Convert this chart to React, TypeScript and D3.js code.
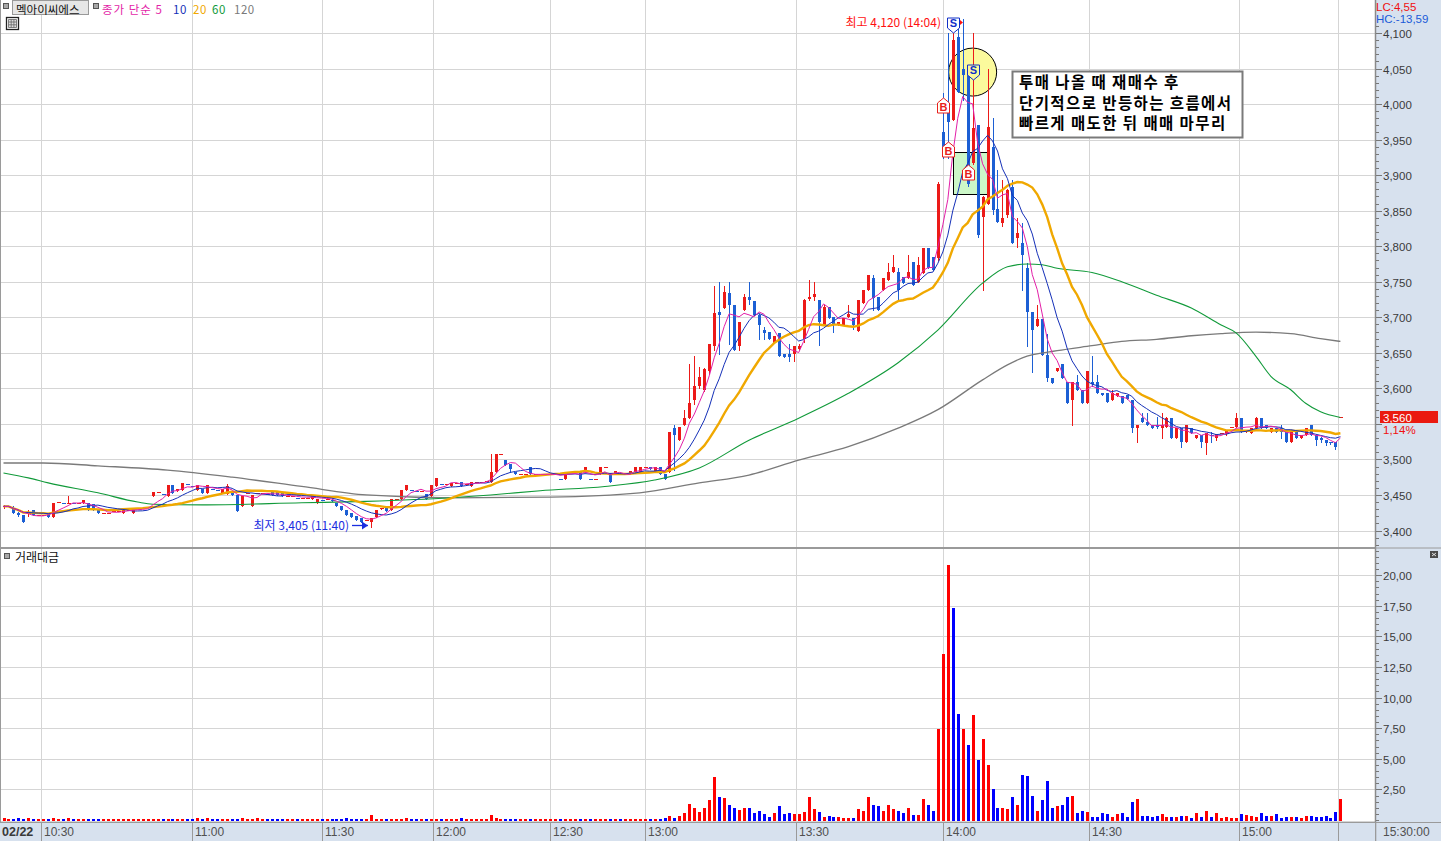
import React from 'react';
import * as d3 from 'd3';

const W = 1441;
const H = 841;

// ---------- DATA ----------
// [open, high, low, close] per 1-minute bar
const candles: [number, number, number, number][] = [
  [3434,3436,3432,3434],[3434,3434,3434,3434],[3432,3434,3424,3425],[3425,3426,3421,3422],[3422,3422,3412,3412],[3423,3429,3420,3425],[3429,3429,3422,3422],[3422,3422,3422,3422],[3422,3422,3422,3422],[3424,3424,3419,3419],
  [3419,3439,3419,3439],[3440,3440,3440,3440],[3438,3438,3438,3438],[3439,3448,3439,3439],[3438,3438,3438,3438],[3438,3438,3438,3438],[3438,3443,3438,3443],[3438,3438,3429,3429],[3437,3437,3429,3429],[3429,3429,3424,3424],
  [3424,3424,3424,3424],[3424,3424,3424,3424],[3428,3428,3428,3428],[3428,3428,3428,3428],[3424,3429,3424,3429],[3429,3429,3429,3429],[3424,3429,3424,3429],[3431,3431,3431,3431],[3431,3431,3431,3431],[3433,3433,3433,3433],
  [3448,3454,3448,3454],[3454,3454,3454,3454],[3452,3452,3452,3452],[3448,3464,3448,3464],[3464,3464,3453,3453],[3455,3458,3455,3458],[3457,3467,3457,3467],[3465,3465,3465,3465],[3462,3462,3462,3462],[3457,3464,3457,3464],
  [3458,3458,3453,3453],[3453,3464,3453,3464],[3458,3458,3458,3458],[3457,3457,3457,3457],[3453,3458,3453,3458],[3452,3465,3452,3462],[3455,3455,3450,3450],[3450,3450,3428,3428],[3434,3448,3434,3448],[3453,3453,3453,3453],
  [3434,3450,3434,3450],[3453,3453,3453,3453],[3453,3453,3453,3453],[3452,3452,3452,3452],[3454,3454,3450,3450],[3454,3454,3450,3450],[3454,3454,3448,3448],[3448,3448,3448,3448],[3448,3448,3448,3448],[3446,3446,3446,3446],
  [3446,3446,3446,3446],[3446,3446,3446,3446],[3444,3448,3444,3448],[3438,3445,3438,3445],[3443,3443,3443,3443],[3444,3444,3444,3444],[3443,3443,3441,3441],[3439,3439,3434,3434],[3434,3434,3429,3429],[3429,3429,3422,3422],
  [3424,3424,3419,3419],[3420,3420,3415,3415],[3417,3417,3412,3412],[3415,3415,3415,3415],[3412,3418,3405,3418],[3419,3429,3419,3429],[3430,3432,3430,3431],[3434,3434,3428,3428],[3429,3444,3429,3444],[3444,3444,3444,3444],
  [3445,3457,3445,3457],[3457,3464,3457,3464],[3457,3457,3457,3457],[3456,3456,3456,3456],[3456,3456,3456,3456],[3451,3451,3444,3444],[3449,3464,3449,3464],[3463,3474,3463,3474],[3465,3465,3465,3465],[3465,3465,3465,3465],
  [3462,3467,3462,3467],
  [3467,3467,3467,3467],[3468,3468,3463,3463],[3466,3466,3466,3466],[3463,3468,3463,3468],[3468,3468,3468,3468],[3468,3468,3468,3468],[3470,3470,3470,3470],[3468,3508,3468,3483],[3483,3508,3483,3508],[3508,3508,3508,3508],
  [3499,3499,3492,3492],[3494,3494,3483,3487],[3483,3483,3479,3479],[3479,3479,3479,3479],[3479,3479,3479,3479],[3489,3489,3479,3479],[3479,3479,3479,3479],[3479,3479,3479,3479],[3479,3479,3479,3479],[3479,3479,3479,3479],
  [3479,3479,3479,3479],[3473,3473,3473,3473],[3473,3483,3473,3483],[3483,3483,3483,3483],[3483,3483,3483,3483],[3483,3483,3473,3473],[3483,3489,3483,3489],[3473,3473,3473,3473],[3473,3473,3473,3473],[3479,3489,3479,3489],
  [3489,3489,3489,3489],[3479,3479,3468,3468],[3479,3484,3479,3484],[3479,3479,3479,3479],[3479,3479,3479,3479],[3479,3484,3479,3484],[3483,3489,3483,3489],[3483,3489,3483,3489],[3489,3489,3489,3489],[3489,3489,3486,3486],
  [3483,3489,3483,3489],[3489,3489,3479,3479],[3479,3479,3473,3473],[3483,3539,3483,3539],[3544,3548,3485,3534],[3528,3545,3528,3545],[3548,3570,3548,3558],[3558,3634,3558,3579],[3583,3645,3578,3603],[3603,3630,3600,3616],
  [3598,3628,3596,3627],[3625,3663,3620,3663],[3659,3744,3654,3706],[3708,3749,3649,3703],[3713,3744,3713,3735],[3734,3749,3663,3717],[3717,3717,3654,3654],[3659,3694,3654,3694],[3710,3733,3710,3728],[3728,3749,3718,3724],
  [3723,3723,3703,3703],[3703,3705,3670,3689],[3682,3687,3670,3678],[3680,3680,3670,3670],[3664,3674,3664,3674],[3678,3678,3645,3645],[3649,3649,3644,3644],[3649,3663,3638,3644],[3649,3659,3638,3659],[3655,3662,3655,3660],
  [3670,3726,3665,3724],[3726,3753,3724,3728],[3728,3749,3724,3733],[3724,3724,3661,3694],[3689,3717,3689,3715],[3715,3715,3699,3699],[3701,3701,3680,3689],[3689,3694,3689,3694],[3689,3699,3689,3699],[3701,3717,3701,3705],
  [3699,3699,3683,3689],[3681,3724,3681,3724],[3720,3738,3720,3738],[3738,3760,3738,3760],[3755,3760,3710,3727],[3729,3729,3710,3710],[3738,3755,3738,3755],[3752,3776,3752,3764],[3764,3788,3764,3771],[3764,3769,3724,3738],
  [3757,3757,3748,3748],[3755,3788,3755,3764],[3778,3778,3745,3745],[3750,3785,3750,3773],[3762,3798,3762,3798],[3798,3798,3769,3769],[3785,3785,3766,3766],[3783,3890,3780,3888],[3960,4015,3924,3930],[3998,4100,3924,3975],
  [3977,4100,3977,4090],[4095,4114,4017,4017],[4050,4120,4006,4041],[4041,4041,3885,3888],[3917,4100,3916,3966],[3970,3970,3813,3816],[3841,3870,3738,3869],[3860,4050,3860,3968],[3940,3980,3845,3851],[3853,3907,3834,3834],
  [3832,3893,3828,3839],[3844,3880,3841,3879],[3884,3893,3804,3804],[3812,3839,3799,3818],[3805,3832,3738,3788],[3769,3776,3659,3708],[3708,3708,3623,3682],[3688,3717,3688,3698],[3698,3698,3647,3647],[3647,3677,3610,3614],
  [3614,3614,3608,3608],[3625,3628,3625,3628],[3634,3634,3614,3614],[3609,3609,3579,3579],[3584,3609,3548,3609],[3609,3619,3598,3598],[3598,3598,3579,3579],[3579,3625,3579,3625],[3609,3645,3604,3606],[3609,3619,3593,3593],
  [3593,3593,3590,3591],[3593,3593,3581,3581],[3584,3597,3584,3593],[3589,3593,3589,3593],[3589,3589,3579,3579],[3590,3590,3585,3585],[3584,3584,3539,3544],[3544,3548,3525,3548],[3558,3565,3553,3553],[3553,3565,3548,3548],
  [3548,3548,3544,3544],[3548,3560,3544,3546],[3544,3565,3530,3548],[3546,3560,3546,3558],[3558,3558,3530,3530],[3530,3544,3530,3544],[3544,3544,3518,3525],[3525,3548,3525,3548],[3544,3544,3537,3537],[3530,3534,3530,3534],
  [3534,3534,3518,3525],[3523,3537,3508,3537],[3534,3539,3525,3533],[3530,3536,3527,3536],[3537,3537,3537,3537],[3536,3542,3535,3542],[3546,3546,3546,3546],[3546,3565,3546,3558],[3558,3558,3539,3539],[3539,3542,3539,3542],
  [3537,3544,3537,3544],[3544,3560,3544,3558],[3558,3558,3544,3544],[3548,3548,3544,3544],[3539,3544,3539,3544],[3544,3544,3539,3539],[3544,3548,3530,3539],[3539,3539,3525,3525],[3525,3539,3525,3539],[3539,3539,3530,3530],
  [3530,3534,3530,3534],[3534,3544,3534,3544],[3548,3548,3534,3534],[3534,3534,3521,3527],[3530,3532,3525,3527],[3527,3527,3520,3523],[3525,3525,3522,3523],[3525,3525,3515,3518],[3560,3560,3560,3560],
];

// trading value (억원) per bar
const volumes: number[] = [
  0.14,0.07,0.07,0.14,0.07,0.14,0.07,0.07,0.07,0.07,
  0.14,0.07,0.07,0.14,0.07,0.07,0.07,0.07,0.07,0.07,
  0.07,0.07,0.07,0.07,0.07,0.07,0.07,0.07,0.07,0.07,
  0.07,0.07,0.07,0.07,0.07,0.07,0.07,0.07,0.07,0.14,
  0.07,0.14,0.07,0.07,0.07,0.07,0.07,0.07,0.14,0.07,
  0.07,0.14,0.07,0.07,0.07,0.07,0.07,0.07,0.07,0.07,
  0.07,0.07,0.07,0.07,0.07,0.07,0.07,0.07,0.07,0.14,
  0.07,0.07,0.07,0.07,0.4,0.07,0.07,0.07,0.07,0.07,
  0.07,0.14,0.07,0.07,0.07,0.07,0.07,0.07,0.07,0.07,
  0.07,0.07,0.14,0.07,0.07,0.07,0.07,0.07,0.4,0.14,
  0.07,0.07,0.07,0.07,0.07,0.07,0.07,0.07,0.07,0.07,
  0.07,0.07,0.07,0.07,0.07,0.07,0.07,0.07,0.07,0.07,
  0.07,0.07,0.07,0.07,0.07,0.07,0.07,0.07,0.07,0.07,
  0.07,0.07,0.1,0.15,0.33,0.2,0.33,0.55,1.3,0.96,
  0.68,0.96,1.6,3.5,1.9,1.8,1.2,1.0,0.8,0.96,
  1.0,0.55,0.76,0.47,0.28,0.55,1.15,0.47,0.6,0.47,
  0.5,0.68,1.9,0.87,0.63,0.28,0.33,0.28,0.22,0.19,
  0.14,0.19,0.87,0.73,1.9,1.23,1.15,0.73,1.23,0.87,
  0.73,0.55,0.96,0.41,0.41,1.7,1.23,0.73,7.4,13.6,
  20.8,17.3,8.7,7.4,6.1,8.6,4.9,6.6,4.5,2.5,
  0.96,0.96,0.87,1.9,1.23,3.7,3.6,2.0,0.74,1.64,
  3.2,1.0,1.15,1.23,1.9,2.0,0.6,0.73,0.68,0.28,
  0.28,0.55,0.5,0.22,0.5,0.55,0.22,1.5,1.69,0.33,
  0.36,0.28,0.33,0.47,0.22,0.28,0.28,0.36,0.36,0.19,
  0.55,0.22,0.76,0.28,0.6,0.19,0.22,0.14,0.19,0.47,
  0.41,0.33,0.22,0.55,0.33,0.33,0.47,0.19,0.22,0.22,
  0.22,0.19,0.33,0.33,0.28,0.28,0.33,0.2,0.68,1.75,
];
// bars whose volume colour differs from the candle colour in the reference
const volDirIdx = [189, 190, 191, 193];
const volDirUp = [true, true, false, true];

// 60 / 120 moving averages (they reach back before this session) read at sample bars
const ma60Idx = [0,5,9,19,27,30,40,60,73,90,98,108,121,131,140,150,160,170,180,188,197,202,206,209,212,219,225,232,239,245,248,252,255,259,262,265,269];
const ma60Val = [3481,3474,3467,3453,3440,3437,3436,3439,3441,3446,3450,3456,3462,3471,3488,3527,3558,3593,3636,3682,3748,3771,3775,3774,3769,3763,3750,3731,3713,3689,3678,3645,3617,3598,3579,3567,3559];
const ma120Idx = [0,8,19,33,46,60,73,90,110,128,140,150,160,170,180,188,197,202,205,212,219,225,232,239,245,252,259,265,269];
const ma120Val = [3495,3495,3491,3485,3475,3462,3450,3446,3447,3453,3467,3478,3499,3518,3544,3570,3612,3633,3643,3653,3660,3666,3669,3674,3677,3679,3677,3670,3666];

const timeTickIdx = [7.5, 38, 64, 86.5, 110, 129, 159.5, 189, 218.5, 248.5, 268.5];
const timeTickLabels = ['10:30', '11:00', '11:30', '12:00', '12:30', '13:00', '13:30', '14:00', '14:30', '15:00', ''];

const priceTicks = [3400, 3450, 3500, 3550, 3600, 3650, 3700, 3750, 3800, 3850, 3900, 3950, 4000, 4050, 4100];
const priceLabelTicks = [3400, 3450, 3500, 3600, 3650, 3700, 3750, 3800, 3850, 3900, 3950, 4000, 4050, 4100];
const volTicks = [2.5, 5, 7.5, 10, 12.5, 15, 17.5, 20];

const tradeIdx = [189, 190, 191, 194, 195];
const tradeType = ['B', 'B', 'S', 'B', 'S'];
const tradePrice = [3997, 3935, 4111, 3903, 4045];

const highPrice = 4120, highLabel = '최고 4,120 (14:04)';
const lowIdx = 74, lowPrice = 3405, lowLabel = '최저 3,405 (11:40)';
const lastPrice = 3560, lastLabel = '3,560', lastPct = '1,14%';

const noteLines = ['투매 나올 때 재매수 후', '단기적으로 반등하는 흐름에서', '빠르게 매도한 뒤 매매 마무리'];
const noteAnchor = { idx: 202.9, price: 4047 };
const circleAnchor = { idx: 195, price: 4045 };
const boxAnchor = { idx0: 191.1, idx1: 198, p0: 3933, p1: 3874 };

const legendItems = [
  { t: '종가 단순 5', c: '#e31fa8' },
  { t: '10', c: '#1530b8' },
  { t: '20', c: '#f0a800' },
  { t: '60', c: '#119a3a' },
  { t: '120', c: '#7a7a7a' },
];
const legendX = [102, 173, 193, 212, 234];

// ---------- STYLE ----------
const KR = '"Noto Sans CJK KR", "Noto Sans", sans-serif';
const NUM = '"Liberation Sans", Arial, sans-serif';
const PANEL_BG = '#d7e1ee';
const GRID = '#d5d5d5';
const RED = '#ec1a18';
const BLUE = '#1c5fd4';
const VRED = '#ff0000';
const VBLUE = '#0000ff';

const PLOT_R = 1375;
const PRICE_BOTTOM = 548;
const VOL_TOP = 549;
const AXIS_TOP = 822;

export default function App() {
  const x = d3.scaleLinear().domain([0, 269]).range([3.5, 3.5 + 269 * 4.97]);
  const y = d3.scaleLinear().domain([3400, 4100]).range([530.5, 33]);
  const yv = d3.scaleLinear().domain([0, 20]).range([820, 575.2]);

  const closes = candles.map((d) => d[3]);
  const sma = (k: number) => closes.map((_, i) => d3.mean(closes.slice(Math.max(0, i - k + 1), i + 1)) as number);
  const ma5 = sma(5), ma10 = sma(10), ma20 = sma(20);

  const up = candles.map((d, i) => {
    if (d[3] > d[0]) return true;
    if (d[3] < d[0]) return false;
    return i === 0 ? true : d[3] >= candles[i - 1][3];
  });
  const volUp = up.map((u, i) => {
    const k = volDirIdx.indexOf(i);
    return k >= 0 ? volDirUp[k] : u;
  });

  const lineIdx = d3.line<number>().x((_, i) => x(i)).y((d) => y(d));
  const lineSample = (idx: number[]) =>
    d3.line<number>().x((_, i) => x(idx[i])).y((d) => y(d)).curve(d3.curveMonotoneX);

  const priceMinor = d3.range(3380, 4150, 10);
  const volMinor = d3.range(0, 22.5, 0.5);

  const cxr = (i: number) => Math.round(x(i));

  const noteX = Math.round(x(noteAnchor.idx));
  const noteY = Math.round(y(noteAnchor.price));

  return (
    <svg width={W} height={H} style={{ position: 'absolute', left: 0, top: 0, background: '#fff' }}
      xmlns="http://www.w3.org/2000/svg">
      <defs>
        <clipPath id="pclip"><rect x={0} y={0} width={PLOT_R} height={PRICE_BOTTOM} /></clipPath>
        <clipPath id="vclip"><rect x={0} y={VOL_TOP} width={PLOT_R} height={AXIS_TOP - VOL_TOP} /></clipPath>
      </defs>
      <rect x={0} y={0} width={W} height={H} fill="#fff" />

      {/* grid - horizontal */}
      {priceTicks.map((p) => (
        <line key={'hg' + p} x1={0} x2={PLOT_R} y1={Math.round(y(p)) + 0.5} y2={Math.round(y(p)) + 0.5} stroke={GRID} />
      ))}
      {volTicks.map((v) => (
        <line key={'vg' + v} x1={0} x2={PLOT_R} y1={Math.round(yv(v)) + 0.5} y2={Math.round(yv(v)) + 0.5} stroke={GRID} />
      ))}
      <line x1={0} x2={PLOT_R} y1={821.5} y2={821.5} stroke={GRID} />
      {/* grid - vertical */}
      {timeTickIdx.map((t, k) => (
        <line key={'tg' + k} x1={cxr(t) + 0.5} x2={cxr(t) + 0.5} y1={0} y2={AXIS_TOP} stroke={GRID} />
      ))}

      {/* annotation shapes (behind candles) */}
      <g clipPath="url(#pclip)">
        <rect x={Math.round(x(boxAnchor.idx0)) + 0.5} y={Math.round(y(boxAnchor.p0)) + 0.5}
          width={Math.round(x(boxAnchor.idx1) - x(boxAnchor.idx0))} height={Math.round(y(boxAnchor.p1) - y(boxAnchor.p0))}
          fill="#ccf7c8" stroke="#000" strokeWidth={1} />
        <circle cx={x(circleAnchor.idx)} cy={y(circleAnchor.price)} r={24} fill="#fbfa9c" stroke="#000" strokeWidth={1} />
      </g>

      {/* candles */}
      <g clipPath="url(#pclip)">
        {candles.map((d, i) => {
          const [o, h, l, c] = d;
          const cx = cxr(i);
          const col = up[i] ? RED : BLUE;
          const top = Math.round(y(Math.max(o, c)));
          const bot = Math.round(y(Math.min(o, c)));
          const bh = Math.max(1, bot - top);
          return (
            <g key={'c' + i}>
              {h !== l && (
                <line x1={cx + 0.5} x2={cx + 0.5} y1={Math.round(y(h))} y2={Math.round(y(l)) + 1} stroke={col} strokeWidth={1} />
              )}
              <rect x={cx - 1} y={top} width={bh === 1 ? 4 : 3} height={bh} fill={col} />
            </g>
          );
        })}
      </g>

      {/* moving averages */}
      <g clipPath="url(#pclip)" fill="none">
        <path d={lineSample(ma120Idx)(ma120Val) || ''} stroke="#7a7a7a" strokeWidth={1.3} />
        <path d={lineSample(ma60Idx)(ma60Val) || ''} stroke="#119a3a" strokeWidth={1.1} />
        <path d={lineIdx(ma20) || ''} stroke="#f0a800" strokeWidth={2.4} />
        <path d={lineIdx(ma10) || ''} stroke="#1530b8" strokeWidth={1} />
        <path d={lineIdx(ma5) || ''} stroke="#e31fa8" strokeWidth={1} />
      </g>

      {/* trade markers */}
      {tradeIdx.map((ti, k) => {
        const mx = cxr(ti) + 0.5;
        const my = Math.round(y(tradePrice[k]));
        const isB = tradeType[k] === 'B';
        const col = isB ? '#e8201c' : '#1030c8';
        const path = isB
          ? 'M -6 7 L -6 -3 L 0 -8 L 6 -3 L 6 7 Z'
          : 'M -6 -7 L 6 -7 L 6 3 L 0 8 L -6 3 Z';
        return (
          <g key={'m' + k} transform={`translate(${mx},${my})`}>
            <path d={path} fill={k === 4 ? '#fbfa9c' : '#fff'} stroke={col} strokeWidth={1} />
            <text x={0} y={isB ? 5 : 2} textAnchor="middle" fontFamily={NUM} fontWeight="bold" fontSize={11} fill={col}>
              {tradeType[k]}
            </text>
          </g>
        );
      })}

      {/* high / low labels */}
      <text x={Math.round(x(191)) - 12} y={Math.round(y(highPrice)) + 8} textAnchor="end" fontFamily={KR} fontSize={12} fill="#ff1010">
        {highLabel}
      </text>
      <path d={`M ${cxr(191) + 7} ${Math.round(y(highPrice)) + 1} l 3 2.5 l -3 2.5 Z`} fill="#ff1010" />
      <text x={cxr(lowIdx) - 22} y={Math.round(y(lowPrice)) + 3} textAnchor="end" fontFamily={KR} fontSize={12} fill="#1a2ee0">
        {lowLabel}
      </text>
      <line x1={cxr(lowIdx) - 19} x2={cxr(lowIdx) - 3} y1={Math.round(y(lowPrice)) - 1.5} y2={Math.round(y(lowPrice)) - 1.5}
        stroke="#1a2ee0" strokeWidth={1.3} />
      <path d={`M ${cxr(lowIdx) - 3} ${Math.round(y(lowPrice)) - 1.5} l -6 -4 l 0 8 Z`} fill="#1a2ee0" />

      {/* note box */}
      <g>
        <rect x={noteX + 0.5} y={noteY + 0.5} width={230} height={66} fill="#fff" stroke="#7a7a7a" strokeWidth={2} />
        {noteLines.map((t, k) => (
          <text key={'n' + k} x={noteX + 7} y={noteY + 17 + k * 20.5} fontFamily={KR} fontWeight="bold" fontSize={15.5}
            letterSpacing={1.4} fill="#000">
            {t}
          </text>
        ))}
      </g>

      {/* volume bars */}
      <g clipPath="url(#vclip)">
        {volumes.map((v, i) => {
          const cx = cxr(i);
          const top = Math.round(yv(v));
          return <rect key={'v' + i} x={cx - 1} y={top} width={3} height={Math.max(1, 821 - top)} fill={volUp[i] ? VRED : VBLUE} />;
        })}
      </g>

      {/* panel borders */}
      <line x1={0} x2={PLOT_R} y1={548} y2={548} stroke="#9a9a9a" strokeWidth={2} />
      <line x1={0.5} x2={0.5} y1={0} y2={AXIS_TOP} stroke="#9a9a9a" />

      {/* right axis panel */}
      <rect x={PLOT_R} y={0} width={W - PLOT_R} height={H} fill={PANEL_BG} />
      <line x1={PLOT_R + 0.5} x2={PLOT_R + 0.5} y1={0} y2={H} stroke="#8a8a8a" strokeWidth={1.5} />
      {priceMinor.map((p) => {
        const yy = Math.round(y(p)) + 0.5;
        if (yy > PRICE_BOTTOM - 2 || yy < 26) return null;
        const major = p % 50 === 0;
        return <line key={'pm' + p} x1={PLOT_R + 1} x2={PLOT_R + (major ? 7 : 4)} y1={yy} y2={yy} stroke="#777" />;
      })}
      {priceLabelTicks.map((p) => (
        <text key={'pl' + p} x={1383} y={Math.round(y(p)) + 4.5} fontFamily={NUM} fontSize={11.5} fill="#3a3a3a">
          {d3.format(',')(p)}
        </text>
      ))}
      {volMinor.map((v) => {
        const yy = Math.round(yv(v)) + 0.5;
        if (yy < VOL_TOP + 2 || yy > AXIS_TOP) return null;
        const major = Math.abs(v / 2.5 - Math.round(v / 2.5)) < 1e-6 && v > 0;
        return <line key={'vm' + v} x1={PLOT_R + 1} x2={PLOT_R + (major ? 7 : 4)} y1={yy} y2={yy} stroke="#777" />;
      })}
      {volTicks.map((v) => (
        <text key={'vl' + v} x={1383} y={Math.round(yv(v)) + 4.5} fontFamily={NUM} fontSize={11.5} fill="#3a3a3a">
          {v.toFixed(2).replace('.', ',')}
        </text>
      ))}
      <line x1={PLOT_R} x2={W} y1={548} y2={548} stroke="#9a9a9a" strokeWidth={1} />

      {/* last price */}
      <rect x={1380} y={Math.round(y(lastPrice)) - 6} width={58} height={12} fill="#ea1a10" />
      <text x={1383} y={Math.round(y(lastPrice)) + 4.5} fontFamily={NUM} fontSize={11.5} fill="#fff">{lastLabel}</text>
      <text x={1383} y={Math.round(y(lastPrice)) + 16.5} fontFamily={NUM} fontSize={11.5} fill="#f01010">{lastPct}</text>

      <text x={1376} y={11} fontFamily={NUM} fontSize={11.5} fill="#f01010">LC:4,55</text>
      <text x={1376} y={23} fontFamily={NUM} fontSize={11.5} fill="#1a5ad8">HC:-13,59</text>

      {/* small panel icon */}
      <rect x={1430} y={551} width={8} height={7} fill="#4a4a4a" />
      <path d="M1432 553 l4 3 M1436 553 l-4 3" stroke="#fff" strokeWidth={0.8} />

      {/* bottom time axis */}
      <rect x={0} y={AXIS_TOP} width={PLOT_R} height={H - AXIS_TOP} fill={PANEL_BG} />
      <line x1={0} x2={W} y1={AXIS_TOP + 0.5} y2={AXIS_TOP + 0.5} stroke="#9a9a9a" />
      {timeTickIdx.map((t, k) => (
        <g key={'tt' + k}>
          <line x1={cxr(t) + 0.5} x2={cxr(t) + 0.5} y1={AXIS_TOP} y2={H} stroke="#9a9a9a" />
          <text x={cxr(t) + 3} y={836} fontFamily={NUM} fontSize={12} fill="#505050">{timeTickLabels[k]}</text>
        </g>
      ))}
      <text x={2} y={836} fontFamily={NUM} fontSize={12.5} fontWeight="bold" fill="#3a3a3a">02/22</text>
      <line x1={PLOT_R + 0.5} x2={PLOT_R + 0.5} y1={AXIS_TOP} y2={H} stroke="#9a9a9a" />
      <text x={1383} y={836} fontFamily={NUM} fontSize={12} fill="#505050">15:30:00</text>

      {/* legend */}
      <rect x={3.5} y={3.5} width={5} height={5} fill="#a8a8a8" stroke="#555" />
      <rect x={12.5} y={0.5} width={76} height={14} fill="#e6e6e6" stroke="#999" />
      <text x={16} y={13.5} fontFamily={KR} fontSize={11.5} fill="#111">멕아이씨에스</text>
      <rect x={93.5} y={3.5} width={5} height={5} fill="#a8a8a8" stroke="#555" />
      {legendItems.map((it, k) => (
        <text key={'lg' + k} x={legendX[k]} y={13.5} fontFamily={KR} fontSize={11.5}
          letterSpacing={k === 0 ? 1 : 0.5} fill={it.c}>{it.t}</text>
      ))}
      {/* table icon */}
      <rect x={6.5} y={17.5} width={12} height={12} fill="#fff" stroke="#222" strokeWidth={1.3} />
      <path d="M8.5 19.5 h8 v8 h-8 z M8.5 22 h8 M8.5 24.8 h8 M11.2 19.5 v8 M13.9 19.5 v8" stroke="#666" strokeWidth={0.8} fill="#ddd" />

      {/* volume panel label */}
      <rect x={4.5} y={553.5} width={5} height={5} fill="#a8a8a8" stroke="#555" />
      <text x={15} y={562} fontFamily={KR} fontSize={12} fill="#111">거래대금</text>
    </svg>
  );
}
